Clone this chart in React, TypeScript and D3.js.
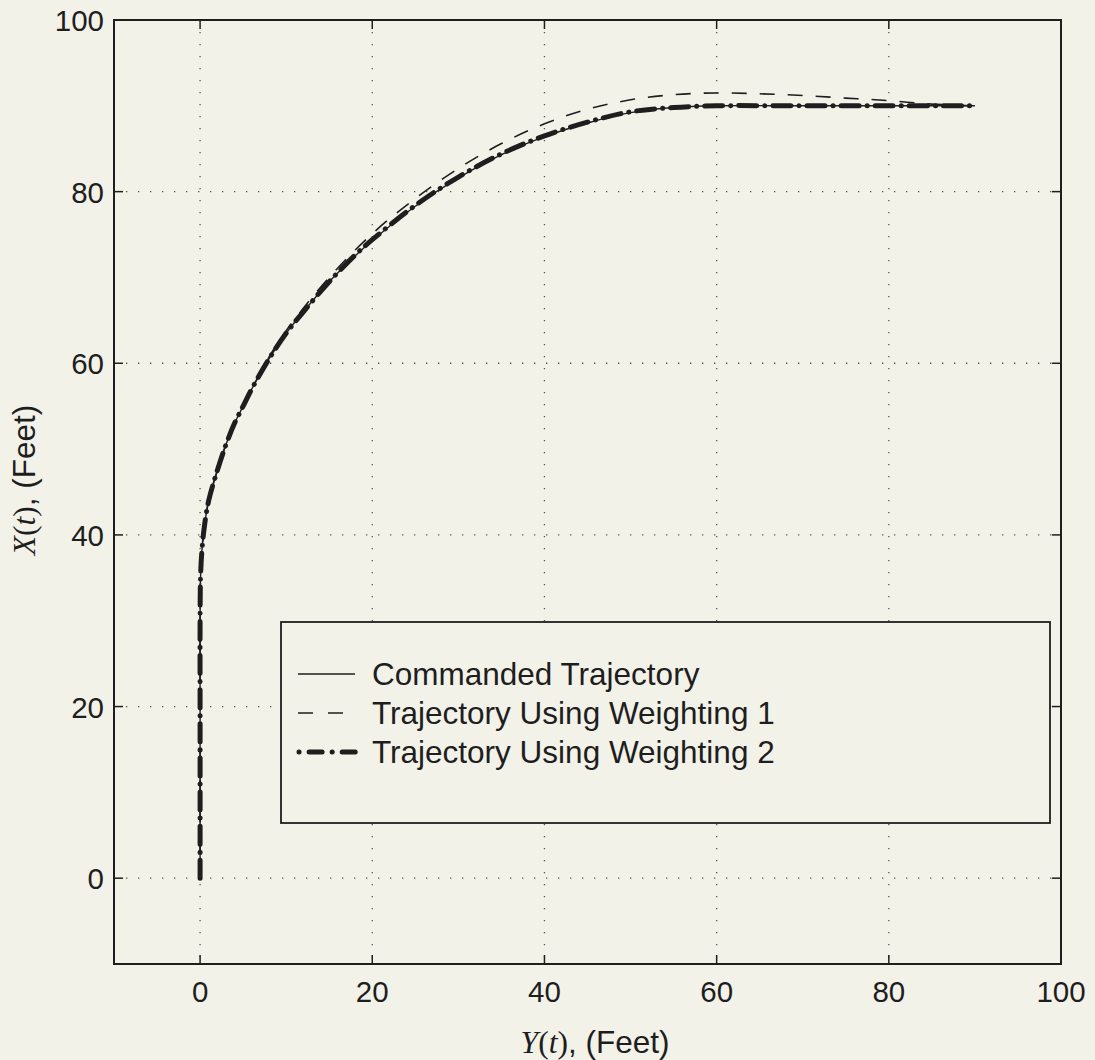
import React from "react";
import * as d3 from "d3";

// Y(t) horizontal, X(t) vertical, in feet
const commandedY = [0, 0, 0, 0, 0.05, 0.2, 0.5, 1, 2, 3, 4, 5, 6, 8, 10, 12, 15, 18, 20, 25, 30, 35, 40, 45, 50, 55, 60, 70, 80, 90];
const commandedX = [0, 10, 20, 30, 35, 38, 41, 44, 47.5, 50.5, 53, 55, 57, 60.5, 63.5, 66, 69.5, 72.5, 74.3, 78.3, 81.6, 84.3, 86.4, 88, 89.2, 89.8, 90, 90, 90, 90];

const weight1Y = [0, 0, 0, 0, 0.05, 0.2, 0.5, 1, 2, 3, 5, 8, 10, 15, 20, 25, 30, 35, 40, 45, 50, 55, 60, 65, 70, 75, 80, 85, 90];
const weight1X = [0, 10, 20, 30, 35, 38, 41, 44, 47.5, 50.5, 55, 60.7, 63.8, 70, 75.1, 79.2, 82.7, 85.6, 87.9, 89.6, 90.7, 91.3, 91.5, 91.4, 91.2, 90.9, 90.6, 90.2, 90];

const weight2Y = [0, 0, 0, 0, 0.05, 0.2, 0.5, 1, 2, 3, 4, 5, 6, 8, 10, 12, 15, 18, 20, 25, 30, 35, 40, 45, 50, 55, 60, 70, 80, 90];
const weight2X = [0, 10, 20, 30, 35, 38, 41, 44, 47.5, 50.5, 53, 55, 57, 60.5, 63.5, 66, 69.5, 72.6, 74.4, 78.4, 81.7, 84.4, 86.5, 88.1, 89.3, 89.8, 90, 90, 90, 90];

const xTicks = [0, 20, 40, 60, 80, 100];
const yTicks = [0, 20, 40, 60, 80, 100];
const legendLabels = ["Commanded Trajectory", "Trajectory Using Weighting 1", "Trajectory Using Weighting 2"];

const W = 1095;
const H = 1060;
const left = 114, right = 1061, top = 20, bottom = 964;

export default function App() {
  const x = d3.scaleLinear().domain([-10, 100]).range([left, right]);
  const y = d3.scaleLinear().domain([-10, 100]).range([bottom, top]);
  const line = d3
    .line<[number, number]>()
    .x((d) => x(d[0]))
    .y((d) => y(d[1]))
    .curve(d3.curveCatmullRom.alpha(0.5));
  const zip = (a: number[], b: number[]) => a.map((v, i) => [v, b[i]] as [number, number]);

  const sans = "'Liberation Sans', Arial, Helvetica, sans-serif";
  const serif = "'Liberation Serif', 'Times New Roman', serif";
  const ink = "#1e1e1e";
  const tick = 9;
  const tickFont = 29.5;
  const labelFont = 31.5;

  const lx = 281, ly = 622, lw = 769, lh = 201;
  const rows = [674, 713, 752];

  return (
    <svg width={W} height={H} style={{ position: "absolute", left: 0, top: 0 }} fontFamily={sans}>
      <rect x={0} y={0} width={W} height={H} fill="#f3f2e9" />
      {/* grid */}
      {xTicks.filter((t) => t < 100).map((t) => (
        <line key={"gx" + t} x1={x(t)} x2={x(t)} y1={top} y2={bottom} stroke="#555" strokeWidth={1.3} strokeDasharray="1.3 10.7" />
      ))}
      {yTicks.filter((t) => t < 100).map((t) => (
        <line key={"gy" + t} x1={left} x2={right} y1={y(t)} y2={y(t)} stroke="#555" strokeWidth={1.3} strokeDasharray="1.3 10.7" />
      ))}
      {/* ticks */}
      {xTicks.map((t) => (
        <g key={"tx" + t}>
          <line x1={x(t)} x2={x(t)} y1={bottom} y2={bottom - tick} stroke={ink} strokeWidth={1.5} />
          <line x1={x(t)} x2={x(t)} y1={top} y2={top + tick} stroke={ink} strokeWidth={1.5} />
          <text x={x(t)} y={1002} textAnchor="middle" fontSize={tickFont} fill={ink}>{t}</text>
        </g>
      ))}
      {yTicks.map((t) => (
        <g key={"ty" + t}>
          <line x1={left} x2={left + tick} y1={y(t)} y2={y(t)} stroke={ink} strokeWidth={1.5} />
          <line x1={right} x2={right - tick} y1={y(t)} y2={y(t)} stroke={ink} strokeWidth={1.5} />
          <text x={104} y={y(t) + 11} textAnchor="end" fontSize={tickFont} fill={ink}>{t}</text>
        </g>
      ))}
      {/* series */}
      <path d={line(zip(commandedY, commandedX)) || ""} fill="none" stroke={ink} strokeWidth={1.4} />
      <path d={line(zip(weight1Y, weight1X)) || ""} fill="none" stroke={ink} strokeWidth={1.6} strokeDasharray="15 13" />
      <path d={line(zip(weight2Y, weight2X)) || ""} fill="none" stroke={ink} strokeWidth={5} strokeLinecap="round" strokeDasharray="18 8 0.1 8" />
      {/* axes box */}
      <rect x={left} y={top} width={right - left} height={bottom - top} fill="none" stroke={ink} strokeWidth={2} />
      {/* legend */}
      <rect x={lx} y={ly} width={lw} height={lh} fill="#f3f2e9" stroke={ink} strokeWidth={1.8} />
      <line x1={298} x2={355} y1={rows[0]} y2={rows[0]} stroke={ink} strokeWidth={1.4} />
      <line x1={298} x2={344} y1={rows[1]} y2={rows[1]} stroke={ink} strokeWidth={1.6} strokeDasharray="15 15" />
      <line x1={299} x2={356} y1={rows[2]} y2={rows[2]} stroke={ink} strokeWidth={5} strokeLinecap="round" strokeDasharray="0.1 10 13 10" />
      {legendLabels.map((s, i) => (
        <text key={s} x={372} y={rows[i] + 11} fontSize={labelFont} fill={ink}>{s}</text>
      ))}
      {/* axis labels */}
      <text x={595} y={1053} textAnchor="middle" fontSize={labelFont} fill={ink}>
        <tspan fontFamily={serif} fontStyle="italic">Y</tspan>
        <tspan fontFamily={serif}>(</tspan>
        <tspan fontFamily={serif} fontStyle="italic">t</tspan>
        <tspan fontFamily={serif}>)</tspan>
        <tspan>, (Feet)</tspan>
      </text>
      <text transform={`translate(35, 480) rotate(-90)`} textAnchor="middle" fontSize={labelFont} fill={ink}>
        <tspan fontFamily={serif} fontStyle="italic">X</tspan>
        <tspan fontFamily={serif}>(</tspan>
        <tspan fontFamily={serif} fontStyle="italic">t</tspan>
        <tspan fontFamily={serif}>)</tspan>
        <tspan>, (Feet)</tspan>
      </text>
    </svg>
  );
}
